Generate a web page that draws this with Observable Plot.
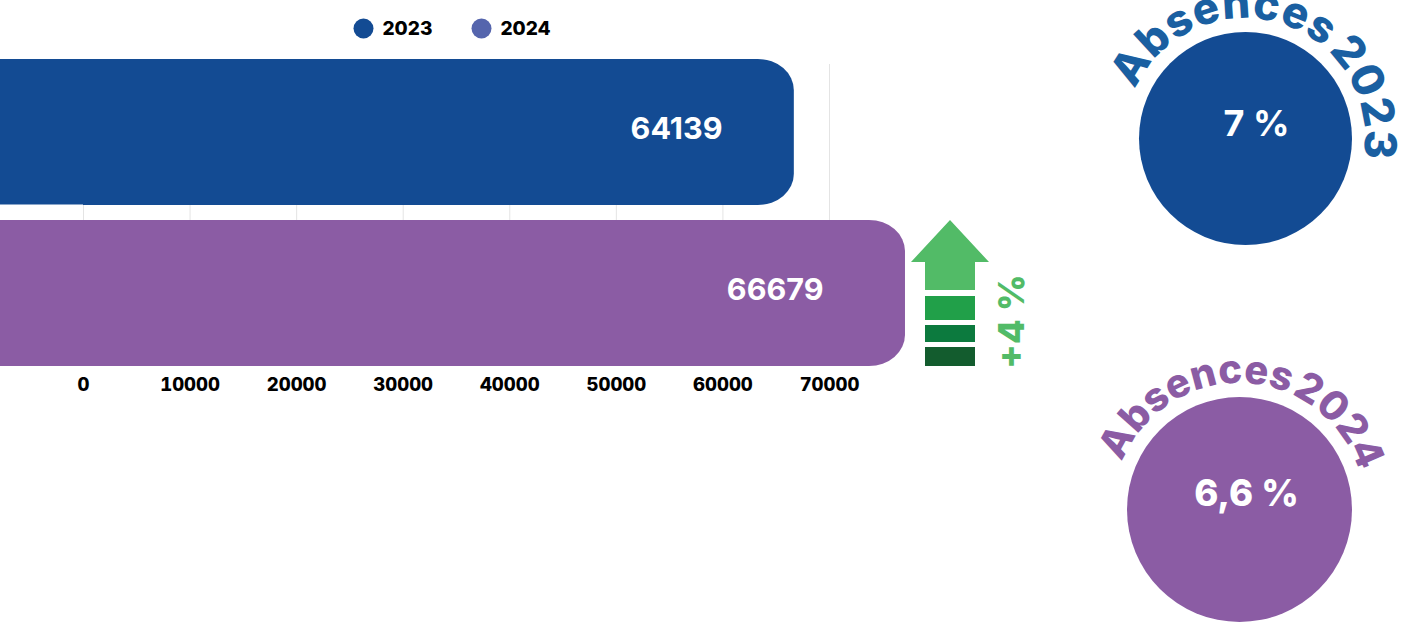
<!DOCTYPE html>
<html lang="fr">
<head>
<meta charset="utf-8">
<script src="https://cdn.jsdelivr.net/npm/d3@7"></script>
<script src="https://cdn.jsdelivr.net/npm/@observablehq/plot@0.6"></script>
<style>
html,body{margin:0;padding:0;background:#fff;overflow:hidden}
svg{display:block}
</style>
</head>
<body>
<div id="chart"></div>
<script>
const years = ["2023", "2024"];
const values = [64139, 66679];
const barStart = [-40000, -40000];
const barEnd = [66700, 77130];
const labelEnd = [59960, 69440];
const barColors = ["#134b93", "#8b5ca4"];
const legendColors = ["#134b93", "#5565ad"];
const xTicks = [0, 10000, 20000, 30000, 40000, 50000, 60000, 70000];
const rateLabels = ["7 %", "6,6 %"];
const rateTitles = ["Absences 2023", "Absences 2024"];
const titleColors = ["#1a5fa1", "#8b5ca4"];
const changeLabel = "+4 %";

const bars = years.map((year, i) => ({year, value: values[i], x1: barStart[i], x2: barEnd[i], labelEnd: labelEnd[i], fill: barColors[i]}));
const FONT = "Inter, 'Noto Sans', sans-serif";
const GREEN = "#52bb67";
const MARGIN_TOP = 64;

// A placed element: pixel offsets from the page's top-left corner
const at = (x, y) => ({frameAnchor: "top-left", dx: x, dy: y - MARGIN_TOP, textAnchor: "middle", lineAnchor: "middle"});

function arrow() {
  const g = d3.create("svg:g");
  g.append("path").attr("d", "M950,220L989,262L975,262L975,290L925,290L925,262L911,262Z").attr("fill", GREEN);
  [[296, 24, "#21a049"], [325, 17, "#0c7a3e"], [347, 19, "#135c2e"]].forEach(([y, h, c]) =>
    g.append("rect").attr("x", 925).attr("y", y).attr("width", 50).attr("height", h).attr("fill", c));
  return g.node();
}

function curved(id, text, color, cx, cy, r, a0, a1, size, spacing, wordSpacing) {
  return () => {
    const g = d3.create("svg:g");
    const p = (a) => [cx + r * Math.cos(a * Math.PI / 180), cy + r * Math.sin(a * Math.PI / 180)];
    const [x0, y0] = p(a0), [x1, y1] = p(a1);
    g.append("path").attr("id", id).attr("fill", "none")
      .attr("d", `M${x0},${y0}A${r},${r} 0 ${a1 - a0 > 180 ? 1 : 0} 1 ${x1},${y1}`);
    g.append("text").attr("fill", color).attr("font-family", FONT).attr("font-weight", 800)
      .attr("font-size", size).attr("letter-spacing", spacing).attr("word-spacing", wordSpacing).attr("text-anchor", "start")
      .append("textPath").attr("href", "#" + id).text(text);
    return g.node();
  };
}

const chart = Plot.plot({
  width: 1402,
  height: 626,
  marginTop: MARGIN_TOP,
  marginBottom: 260,
  marginLeft: 0,
  marginRight: 0,
  style: {fontFamily: FONT, background: "#fff"},
  x: {domain: [0, 70000], range: [83, 829]},
  y: {domain: years, range: [59, 366], paddingInner: 0.095, paddingOuter: 0, axis: null},
  marks: [
    Plot.gridX(xTicks, {stroke: "#e4e4e4", strokeOpacity: 1, strokeWidth: 1}),
    Plot.barX(bars, {x1: "x1", x2: "x2", y: "year", fill: "fill", rx: 36, ry: 31}),
    Plot.ruleY(["2023"], {x1: -10000, x2: 0, stroke: "#fff", strokeWidth: 2, dy: 73}),
    Plot.axisX({ticks: xTicks, tickFormat: (d) => String(d), tickSize: 0, tickPadding: 11,
      fontSize: 18.5, fontWeight: 800, fill: "#000", label: null}),
    Plot.text(bars, {x: "labelEnd", y: "year", text: (d) => String(d.value), textAnchor: "end",
      fill: "#fff", fontSize: 30.5, fontWeight: 700, dy: -3}),

    // legend
    ...years.flatMap((year, i) => {
      const lx = [363, 481][i];
      return [
        Plot.dot([year], {...at(lx, 28), r: 10, fill: legendColors[i]}),
        Plot.text([year], {...at(lx + 19, 28), text: (d) => d, textAnchor: "start", fontSize: 19, fontWeight: 800, fill: "#000"})
      ];
    }),

    // change indicator
    arrow,
    Plot.text([changeLabel], {...at(1012, 321), text: (d) => d, rotate: -90, fontSize: 36, fontWeight: 800, fill: GREEN}),

    // rate circles
    Plot.dot([rateLabels[0]], {...at(1245, 138), r: 106.5, fill: barColors[0]}),
    Plot.dot([rateLabels[1]], {...at(1239, 509), r: 112.5, fill: barColors[1]}),
    Plot.text([rateLabels[0]], {...at(1256, 124), text: (d) => d, fontSize: 36, fontWeight: 700, fill: "#fff"}),
    Plot.text([rateLabels[1]], {...at(1246, 494), text: (d) => d, fontSize: 36.5, fontWeight: 800, fill: "#fff"}),
    curved("arc23", rateTitles[0], titleColors[0], 1245, 138, 120, -156, 30, 44, 0.6, -5),
    curved("arc24", rateTitles[1], titleColors[1], 1239, 509, 126, -158, 0, 40, 0.1, -6)
  ]
});
document.getElementById("chart").append(chart);
</script>
</body>
</html>
